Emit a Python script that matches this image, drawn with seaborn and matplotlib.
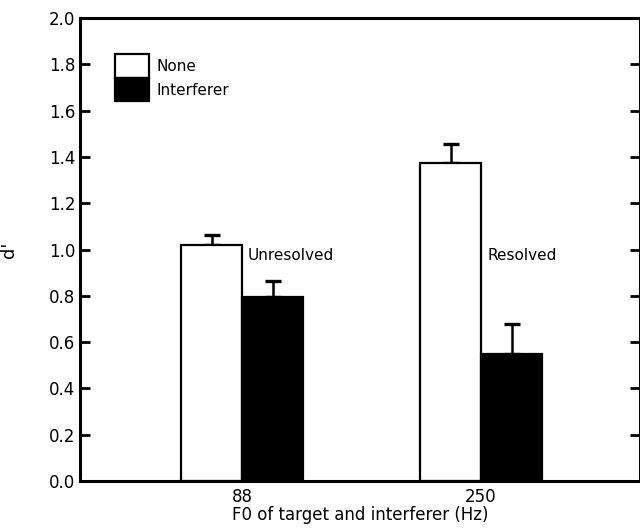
import seaborn as sns
import matplotlib.pyplot as plt
import pandas as pd

# values
f0 = ["88", "250"]
conditions = ["None", "Interferer"]
d_none = [1.02, 1.375]
d_interf = [0.795, 0.55]
err_none = [0.045, 0.08]
err_interf = [0.07, 0.13]
region_labels = ["Unresolved", "Resolved"]

df = pd.DataFrame({
    "F0": f0 * 2,
    "cond": [conditions[0]] * 2 + [conditions[1]] * 2,
    "d": d_none + d_interf,
    "err": err_none + err_interf,
})

sns.set_style("ticks", {"axes.edgecolor": "black", "text.color": "black",
                        "axes.labelcolor": "black", "xtick.color": "black",
                        "ytick.color": "black"})
plt.rcParams['font.family'] = ['DejaVu Sans']

fig, ax = plt.subplots(figsize=(6.4, 5.31), dpi=100)
fig.subplots_adjust(left=0.125, right=1.0, top=0.966, bottom=0.094)

sns.barplot(data=df, x="F0", y="d", hue="cond", palette=["white", "black"],
            width=0.51, gap=0, edgecolor="black", linewidth=1.6,
            errorbar=None, ax=ax, zorder=2)

# upper-only error bars on each bar
for cont, errs in zip(ax.containers, [err_none, err_interf]):
    for bar, e in zip(cont, errs):
        x = bar.get_x() + bar.get_width() / 2
        h = bar.get_height()
        ax.errorbar(x, h, yerr=[[0], [e]], fmt="none", ecolor="black",
                    elinewidth=1.8, capsize=6, capthick=2.4, zorder=1)

for i, lab in enumerate(region_labels):
    ax.text(i + 0.025, 0.975, lab, ha="left", va="center", fontsize=11)

ax.set_xlim(-0.678, 1.665)
ax.set_ylim(0, 2.0)
ax.set_yticks([i * 0.2 for i in range(11)])
ax.set_yticklabels([f"{i * 0.2:.1f}" for i in range(11)], fontsize=12)
ax.set_xticklabels(f0, fontsize=12)
ax.tick_params(axis="y", direction="in", length=7, width=2, right=True)
ax.tick_params(axis="x", length=0, pad=5)
for s in ax.spines.values():
    s.set_linewidth(2.2)

ax.set_xlabel("F0 of target and interferer (Hz)", fontsize=12, labelpad=0)
ax.set_ylabel("d'", fontsize=13, labelpad=22)

leg = ax.legend(loc="upper left", bbox_to_anchor=(0.052, 0.935), frameon=False,
                handlelength=2.2, handleheight=2.0, labelspacing=0,
                handletextpad=0.5, fontsize=11, borderaxespad=0)
for h in leg.legend_handles:
    h.set_edgecolor("black")
    h.set_linewidth(1.6)

fig.savefig("out.png", dpi=100)
